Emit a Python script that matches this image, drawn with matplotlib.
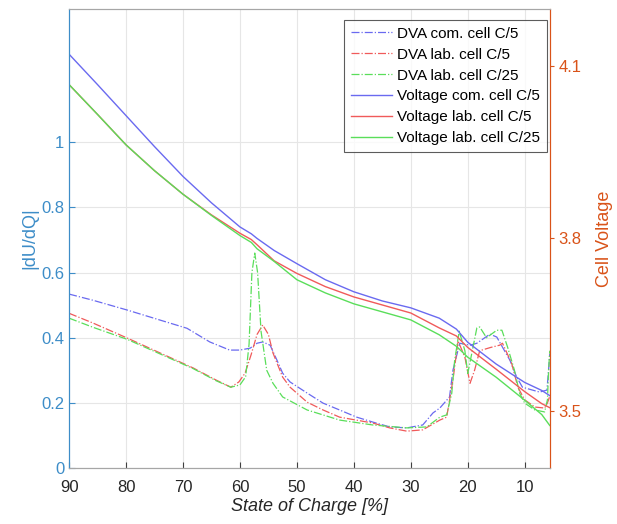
import numpy as np
import matplotlib.pyplot as plt
from matplotlib.ticker import FuncFormatter

plt.rcParams['font.family'] = ['Liberation Sans', 'DejaVu Sans']

# differential voltage |dU/dQ| (left axis)
dva_com_c5_soc = [90, 85.8, 79.8, 74, 69.3, 65.3, 61.8, 60, 58.2, 57, 56, 54.7, 53.5,
                  52.5, 51.2, 48.2, 45.4, 42.5, 39.5, 36.7, 33.7, 30.7, 27.9, 26.1,
                  24.9, 23.2, 22.6, 21.4, 19.6, 18.4, 16.1, 14.9, 13.9, 12.6, 11.4,
                  10.4, 8.6, 7.4, 6.1, 5.9, 5.6]
dva_com_c5 = [0.534, 0.515, 0.485, 0.454, 0.429, 0.387, 0.362, 0.362, 0.368, 0.383,
              0.387, 0.377, 0.331, 0.291, 0.264, 0.230, 0.199, 0.178, 0.156, 0.141,
              0.126, 0.123, 0.132, 0.169, 0.184, 0.218, 0.300, 0.383, 0.377, 0.383,
              0.411, 0.402, 0.371, 0.331, 0.279, 0.248, 0.239, 0.233, 0.239, 0.280,
              0.350]

dva_lab_c5_soc = [90, 85.8, 79.8, 74, 68.2, 64.2, 61.6, 60.2, 59.1, 58, 57, 56, 55,
                  54.2, 52.5, 51.2, 48.2, 45.4, 42.5, 36.7, 33.7, 30.7, 27.9, 24.9,
                  23.7, 22.6, 21.7, 20.5, 19.6, 18.8, 17.9, 16, 14.4, 13.9, 12.3,
                  11.2, 10, 8.2, 6.5, 6.0, 5.6]
dva_lab_c5 = [0.475, 0.445, 0.399, 0.353, 0.307, 0.270, 0.248, 0.264, 0.291, 0.350,
              0.410, 0.439, 0.410, 0.353, 0.279, 0.248, 0.202, 0.178, 0.156, 0.138,
              0.123, 0.113, 0.117, 0.147, 0.156, 0.270, 0.390, 0.340, 0.260, 0.300,
              0.360, 0.370, 0.377, 0.383, 0.322, 0.248, 0.209, 0.187, 0.184, 0.200,
              0.220]

dva_lab_c25_soc = [90, 85.8, 79.8, 74, 68.2, 64.2, 61.6, 60, 59, 58.4, 57.9, 57.4,
                   56.9, 56.3, 55.3, 54.2, 52.5, 48.2, 42.5, 36.7, 30.7, 27.2, 24.9,
                   23.7, 22.8, 22.3, 21.5, 20.5, 20.0, 19.2, 18.4, 17.9, 16.7, 14.9,
                   14.0, 13.0, 11.8, 10.9, 10.0, 8.2, 6.5, 6.0, 5.8, 5.6]
dva_lab_c25 = [0.460, 0.432, 0.395, 0.350, 0.305, 0.268, 0.248, 0.255, 0.280, 0.380,
               0.600, 0.660, 0.600, 0.420, 0.300, 0.260, 0.218, 0.178, 0.147, 0.132,
               0.123, 0.126, 0.156, 0.163, 0.230, 0.330, 0.420, 0.360, 0.290, 0.360,
               0.430, 0.433, 0.400, 0.423, 0.423, 0.371, 0.300, 0.230, 0.199, 0.178,
               0.172, 0.210, 0.300, 0.360]

# cell voltage (right axis)
volt_soc = [90, 85, 80, 75, 70, 65, 60, 58, 57, 54, 50, 45, 40, 35, 30, 25, 22, 20,
            15, 10, 7, 5.6]
volt_com_c5 = [4.121, 4.068, 4.014, 3.960, 3.908, 3.862, 3.820, 3.808, 3.800, 3.779,
               3.756, 3.728, 3.707, 3.691, 3.679, 3.661, 3.642, 3.619, 3.581, 3.549,
               3.535, 3.526]
volt_lab_c5 = [4.068, 4.016, 3.963, 3.918, 3.877, 3.841, 3.809, 3.798, 3.789, 3.761,
               3.739, 3.716, 3.698, 3.684, 3.670, 3.644, 3.630, 3.610, 3.572, 3.533,
               3.512, 3.505]
volt_lab_c25 = [4.068, 4.016, 3.963, 3.918, 3.877, 3.840, 3.805, 3.793, 3.782, 3.760,
                3.728, 3.705, 3.686, 3.672, 3.658, 3.632, 3.612, 3.593, 3.558, 3.518,
                3.493, 3.474]

c_blue = '#6a6af0'
c_red = '#f05a5a'
c_green = '#5ade5a'
left_col = '#3d8dc8'
right_col = '#d95319'

fig = plt.figure(figsize=(6.17, 5.24), dpi=100)
ax = fig.add_axes([0.112, 0.107, 0.779, 0.876])
ax2 = ax.twinx()

h1, = ax.plot(dva_com_c5_soc, dva_com_c5, '-.', color=c_blue, lw=0.9,
              label='DVA com. cell C/5')
h2, = ax.plot(dva_lab_c5_soc, dva_lab_c5, '-.', color=c_red, lw=0.9,
              label='DVA lab. cell C/5')
h3, = ax.plot(dva_lab_c25_soc, dva_lab_c25, '-.', color=c_green, lw=0.9,
              label='DVA lab. cell C/25')
h4, = ax2.plot(volt_soc, volt_com_c5, '-', color=c_blue, lw=1.0,
               label='Voltage com. cell C/5')
h5, = ax2.plot(volt_soc, volt_lab_c5, '-', color=c_red, lw=1.0,
               label='Voltage lab. cell C/5')
h6, = ax2.plot(volt_soc, volt_lab_c25, '-', color=c_green, lw=1.0,
               label='Voltage lab. cell C/25')

ax.set_xlim(90, 5.6)
ax.set_ylim(0, 1.41)
ax2.set_ylim(3.40, 4.20)

ax.set_xticks([90, 80, 70, 60, 50, 40, 30, 20, 10])
ax.set_yticks([0, 0.2, 0.4, 0.6, 0.8, 1])
ax.yaxis.set_major_formatter(FuncFormatter(lambda v, p: '{:g}'.format(round(v, 2))))
ax2.set_yticks([3.5, 3.8, 4.1])

ax.grid(True, color='#e6e6e6', lw=0.8)
ax.set_axisbelow(True)

ax.tick_params(axis='x', direction='in', colors='#404040', labelsize=12, length=4,
               labelcolor='#262626', pad=9)
ax.tick_params(axis='y', direction='in', colors=left_col, labelsize=12, length=4)
ax2.tick_params(axis='y', direction='out', colors=right_col, labelsize=12, length=3)

for a in (ax, ax2):
    a.spines['top'].set_color('#a6a6a6')
    a.spines['bottom'].set_color('#a6a6a6')
    a.spines['left'].set_color(left_col)
    a.spines['right'].set_color(right_col)

ax.set_xlabel('State of Charge [%]', fontsize=13, style='italic', color='#262626',
              labelpad=2)
ax.set_ylabel('|dU/dQ|', fontsize=13, color=left_col, labelpad=2)
ax2.set_ylabel('Cell Voltage', fontsize=13, color=right_col, labelpad=10)

leg = ax2.legend(handles=[h1, h2, h3, h4, h5, h6], loc='upper right',
                 bbox_to_anchor=(0.994, 0.976), borderaxespad=0, fontsize=11,
                 frameon=True, fancybox=False, edgecolor='#333333',
                 handlelength=2.7, handletextpad=0.3, labelspacing=0.45,
                 borderpad=0.45)
leg.get_frame().set_linewidth(0.8)

fig.savefig('out.png', dpi=100)
